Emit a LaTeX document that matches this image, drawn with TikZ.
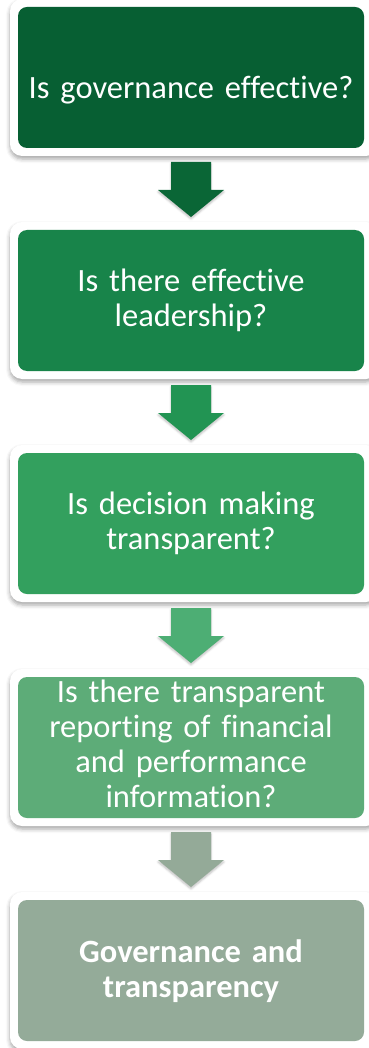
\documentclass[tikz,border=0pt]{standalone}
\usepackage{fontspec}
\setmainfont{Carlito}[Ligatures=NoCommon, WordSpace=0.85]
\usetikzlibrary{calc,shadows.blur}
\definecolor{cA}{HTML}{075F33}
\definecolor{cB}{HTML}{18844A}
\definecolor{cC}{HTML}{33A05E}
\definecolor{cD}{HTML}{5DAC78}
\definecolor{cE}{HTML}{94AB99}
\definecolor{aA}{HTML}{0A6636}
\definecolor{aB}{HTML}{229453}
\definecolor{aC}{HTML}{4DAE74}
\definecolor{aD}{HTML}{94AA98}
\tikzset{
  frame/.style={fill=white, rounded corners=12pt, blur shadow={shadow xshift=0pt, shadow yshift=-3pt, shadow blur radius=4pt, shadow opacity=35}},
  inner/.style={rounded corners=9pt},
  lbl/.style={text=white, font=\fontsize{32.5}{35}\selectfont, align=center, text width=340pt, inner sep=0pt},
  arrowshadow/.style={blur shadow={shadow xshift=0pt, shadow yshift=-2pt, shadow blur radius=2pt, shadow opacity=25}}
}
\newcommand{\stepbox}[5]{% name, top, colour, label y, text
  \fill[frame] (10,#2-8) rectangle (378,#2+149);
  \fill[inner,#3] (18,#2) rectangle (364,#2+141);
  \coordinate (#1top) at (191,#2);
  \coordinate (#1bot) at (191,#2+141);
  \node[lbl] (#1) at (191,#4) {#5};
}
\newcommand{\blockdown}[2]{% from bottom coordinate, colour
  \fill[#2, arrowshadow]
    ($(#1)+(-20,14)$) -- ($(#1)+(20,14)$) -- ($(#1)+(20,42)$) -- ($(#1)+(33,42)$)
    -- ($(#1)+(0,69)$) -- ($(#1)+(-33,42)$) -- ($(#1)+(-20,42)$) -- cycle;
}
\begin{document}
\begin{tikzpicture}[x=1pt,y=-1pt]
\useasboundingbox (0,0) rectangle (368,1048);
\stepbox{b1}{7}{cA}{90}{Is governance effective?}
\stepbox{b2}{230}{cB}{300}{Is there effective\\ leadership?}
\stepbox{b3}{453}{cC}{523}{Is decision making\\ transparent?}
\stepbox{b4}{677}{cD}{744}{Is there transparent\\ reporting of financial\\ and performance\\ information?}
\stepbox{b5}{900}{cE}{971}{\bfseries Governance and\\ transparency}
\blockdown{b1bot}{aA}
\blockdown{b2bot}{aB}
\blockdown{b3bot}{aC}
\blockdown{b4bot}{aD}
\end{tikzpicture}
\end{document}
